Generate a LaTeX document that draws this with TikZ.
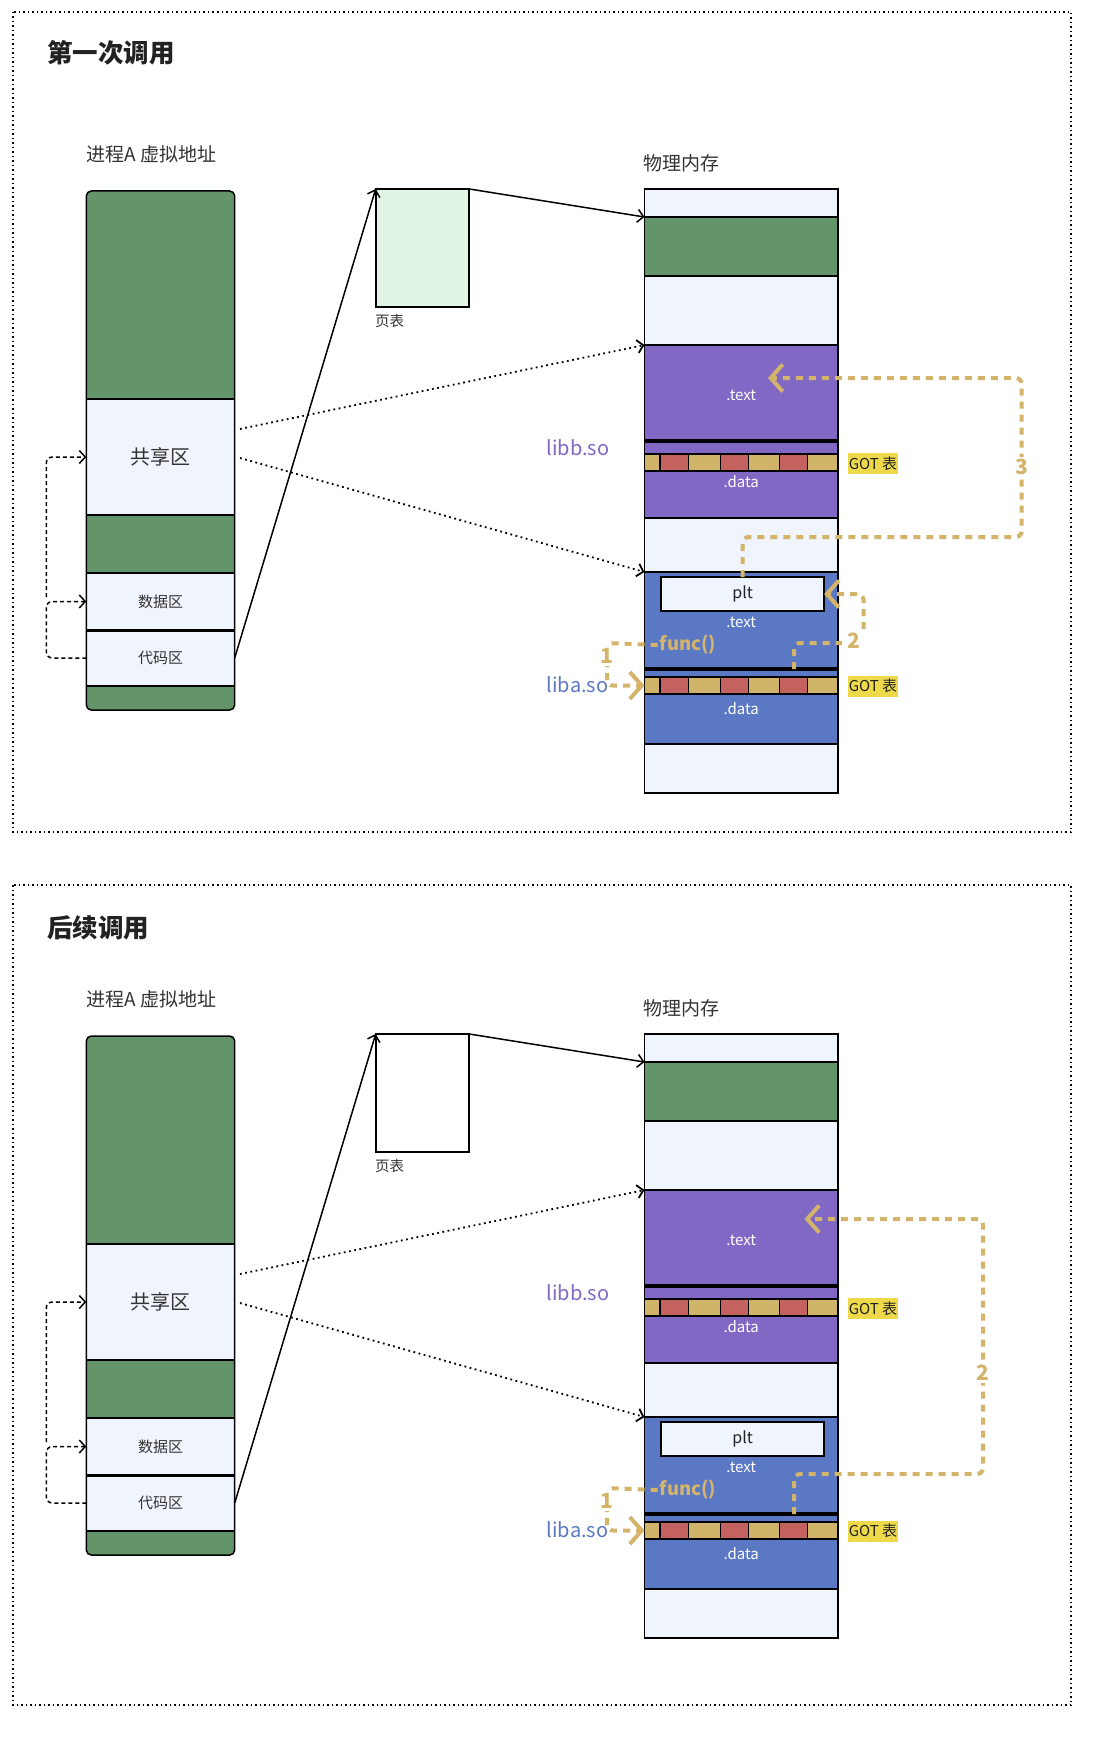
\documentclass[tikz,border=0pt]{standalone}
\usepackage{fontspec}
\setmainfont{Noto Sans CJK SC}
\usetikzlibrary{arrows.meta}
\definecolor{vgreen}{HTML}{64956A}
\definecolor{light}{HTML}{F0F4FC}
\definecolor{bpurple}{HTML}{8068C4}
\definecolor{ablue}{HTML}{5A78C4}
\definecolor{gtan}{HTML}{D0B46A}
\definecolor{gred}{HTML}{C4625F}
\definecolor{gotyellow}{HTML}{EDD94A}
\definecolor{gold}{HTML}{D4B46A}
\definecolor{ptgreen}{HTML}{E2F4E6}
\definecolor{txt}{HTML}{333333}
\definecolor{titlec}{HTML}{222222}
\newcommand\fs[1]{\fontsize{#1}{#1}\selectfont}
\tikzset{
  sec/.style={draw=black, line width=1.3pt, anchor=north west, inner sep=0pt, outer sep=0pt, minimum width=148.4pt, text=txt},
  msec/.style={draw=black, line width=1.5pt, anchor=north west, inner sep=0pt, outer sep=0pt, minimum width=193.3pt},
  lab/.style={text=txt, inner sep=0pt},
  wlab/.style={text=white, font=\fs{15}, inner sep=0pt},
  gotlab/.style={fill=gotyellow, text=titlec, font=\fs{15}, inner sep=0pt, minimum width=50pt, minimum height=21pt},
  solab/.style={anchor=east, font=\fs{20}, inner sep=0pt},
  numlab/.style={text=gold, fill=white, font=\fs{21}\bfseries, inner sep=2pt},
  funcl/.style={text=gold, font=\fs{18.5}\bfseries, inner sep=2pt},
  frame/.style={draw=black, line width=1.8pt, dash pattern=on 1.5pt off 3pt},
  dots/.style={draw=black, line width=1.8pt, dash pattern=on 1.8pt off 3.5pt},
  arr/.style={-{Straight Barb[length=6pt,width=13pt]}},
  loopline/.style={draw=black, line width=1.5pt, dash pattern=on 4pt off 3pt, rounded corners=6pt, arr},
  ga/.style={draw=gold, line width=4pt, dash pattern=on 7pt off 6pt, rounded corners=6pt, -{Straight Barb[length=12pt,width=27pt]}}
}
\newcommand\gotrow[1]{%
  \foreach \xa/\xb/\cc in {644.5/660.1/gtan,660.1/688.2/gred,688.2/720.4/gtan,720.4/748.4/gred,748.4/779.6/gtan,779.6/807.6/gred,807.6/837.8/gtan}
    {\filldraw[fill=\cc, draw=black, line width=1.3pt] (\xa,#1) rectangle (\xb,#1+17);}}
\newcommand\commonpart[1]{%
  \node[lab, anchor=west, font=\fs{19}] (vtitle) at (86,154) {进程A 虚拟地址};
  \fill[vgreen, rounded corners=5pt] (86.3,191) rectangle (234.7,710);
  \node[sec, fill=light, minimum height=116pt, font=\fs{20}] (share) at (86.3,399) {共享区};
  \node[sec, fill=vgreen, minimum height=58pt] (g2) at (86.3,515) {};
  \node[sec, fill=light, minimum height=57pt, font=\fs{15}] (data) at (86.3,573) {数据区};
  \node[sec, fill=light, minimum height=56pt, font=\fs{15}] (code) at (86.3,630) {代码区};
  \draw[line width=3pt] (data.south west) -- (data.south east);
  \draw[line width=1.5pt, rounded corners=5pt] (86.3,191) rectangle (234.7,710);
  \node[draw=black, line width=1.8pt, fill=#1, anchor=north west, inner sep=0pt, outer sep=0pt, minimum width=93.6pt, minimum height=118pt] (pt) at (375.7,189) {};
  \node[lab, anchor=west, font=\fs{14.5}] (ptlab) at (375,321) {页表};
  \node[lab, anchor=west, font=\fs{19}] (ptitle) at (643,163) {物理内存};
  \node[msec, fill=light, minimum height=28pt] (m1) at (644.5,189) {};
  \node[msec, fill=vgreen, minimum height=59pt] (m2) at (644.5,217) {};
  \node[msec, fill=light, minimum height=69pt] (m3) at (644.5,276) {};
  \node[msec, fill=bpurple, minimum height=96pt] (btext) at (644.5,345) {};
  \node[msec, fill=bpurple, minimum height=77pt] (bdata) at (644.5,441) {};
  \node[msec, fill=light, minimum height=54pt] (m4) at (644.5,518) {};
  \node[msec, fill=ablue, minimum height=97pt] (atext) at (644.5,572) {};
  \node[msec, fill=ablue, minimum height=75pt] (adata) at (644.5,669) {};
  \node[msec, fill=light, minimum height=49pt] (m5) at (644.5,744) {};
  \draw[line width=3.5pt] (btext.south west) -- (btext.south east);
  \draw[line width=3.5pt] (atext.south west) -- (atext.south east);
  \gotrow{454}
  \gotrow{677}
  \node[wlab] (btl) at (741.2,395) {.text};
  \node[wlab] (bdl) at (741.2,482) {.data};
  \node[draw=black, line width=2pt, fill=light, anchor=north west, inner sep=0pt, outer sep=0pt, minimum width=163pt, minimum height=34pt, font=\fs{16}, text=titlec] (plt) at (661.2,577) {plt};
  \node[wlab] (atl) at (741.2,622) {.text};
  \node[funcl] (func) at (688,645) {func()};
  \node[wlab] (adl) at (741.2,709) {.data};
  \node[gotlab] (gotb) at (873,463.5) {GOT 表};
  \node[gotlab] (gota) at (873,686) {GOT 表};
  \node[solab, text=bpurple] (libb) at (609.5,448) {libb.so};
  \node[solab, text=ablue] (liba) at (608.5,685) {liba.so};
  \coordinate (s1) at (240,429);
  \coordinate (s2) at (240,458);
  \draw[dots, arr] (s1) -- (btext.north west);
  \draw[dots, arr] (s2) -- (atext.north west);
  \draw[line width=1.5pt, arr] (code.east) -- (pt.north west);
  \draw[line width=1.5pt, arr] (pt.north east) -- (m2.north west);
  \draw[loopline] (code.west) -- (46.3,658) -- (46.3,601.5) -- (data.west);
  \draw[loopline] (46.3,597) -- (46.3,457) -- (share.west);
  \coordinate (g1) at (644.5,685.5);
  \draw[ga] (func.west) -- (607,643) -- (607,685.5) -- (g1);
  \node[numlab] (n1) at (607,656) {1};
}
\begin{document}
\begin{tikzpicture}[x=1pt,y=-1pt]
\useasboundingbox[fill=white] (0,0) rectangle (1093,1744);
% frames and titles
\draw[frame] (13,12) rectangle (1071,832);
\draw[frame] (13,885) rectangle (1071,1705);
\node[anchor=west, font=\fs{25.5}\bfseries, text=titlec, inner sep=0pt] (t1) at (47,53) {第一次调用};
\node[anchor=west, font=\fs{25.5}\bfseries, text=titlec, inner sep=0pt] (t2) at (47,928) {后续调用};
% part 1
\begin{scope}[name prefix=a-]
  \commonpart{ptgreen}
  \coordinate (c2) at (794,669);
  \draw[ga] (c2) -- (794,643) -- (863.5,643) -- (863.5,594) -- (plt.east);
  \node[numlab, minimum width=25pt, minimum height=24pt] (n2) at (854,641) {2};
  \coordinate (t3) at (768,378);
  \draw[ga] (plt.north) -- (742.7,537) -- (1021.7,537) -- (1021.7,378) -- (t3);
  \node[numlab] (n3) at (1021.7,467) {3};
\end{scope}
% part 2
\begin{scope}[yshift=-845pt, name prefix=b-]
  \commonpart{white}
  \coordinate (c2) at (794,669);
  \coordinate (t2) at (804.5,374);
  \draw[ga] (c2) -- (794,629) -- (983,629) -- (983,374) -- (t2);
  \node[numlab] (n2) at (983,528) {2};
\end{scope}
\end{tikzpicture}
\end{document}
